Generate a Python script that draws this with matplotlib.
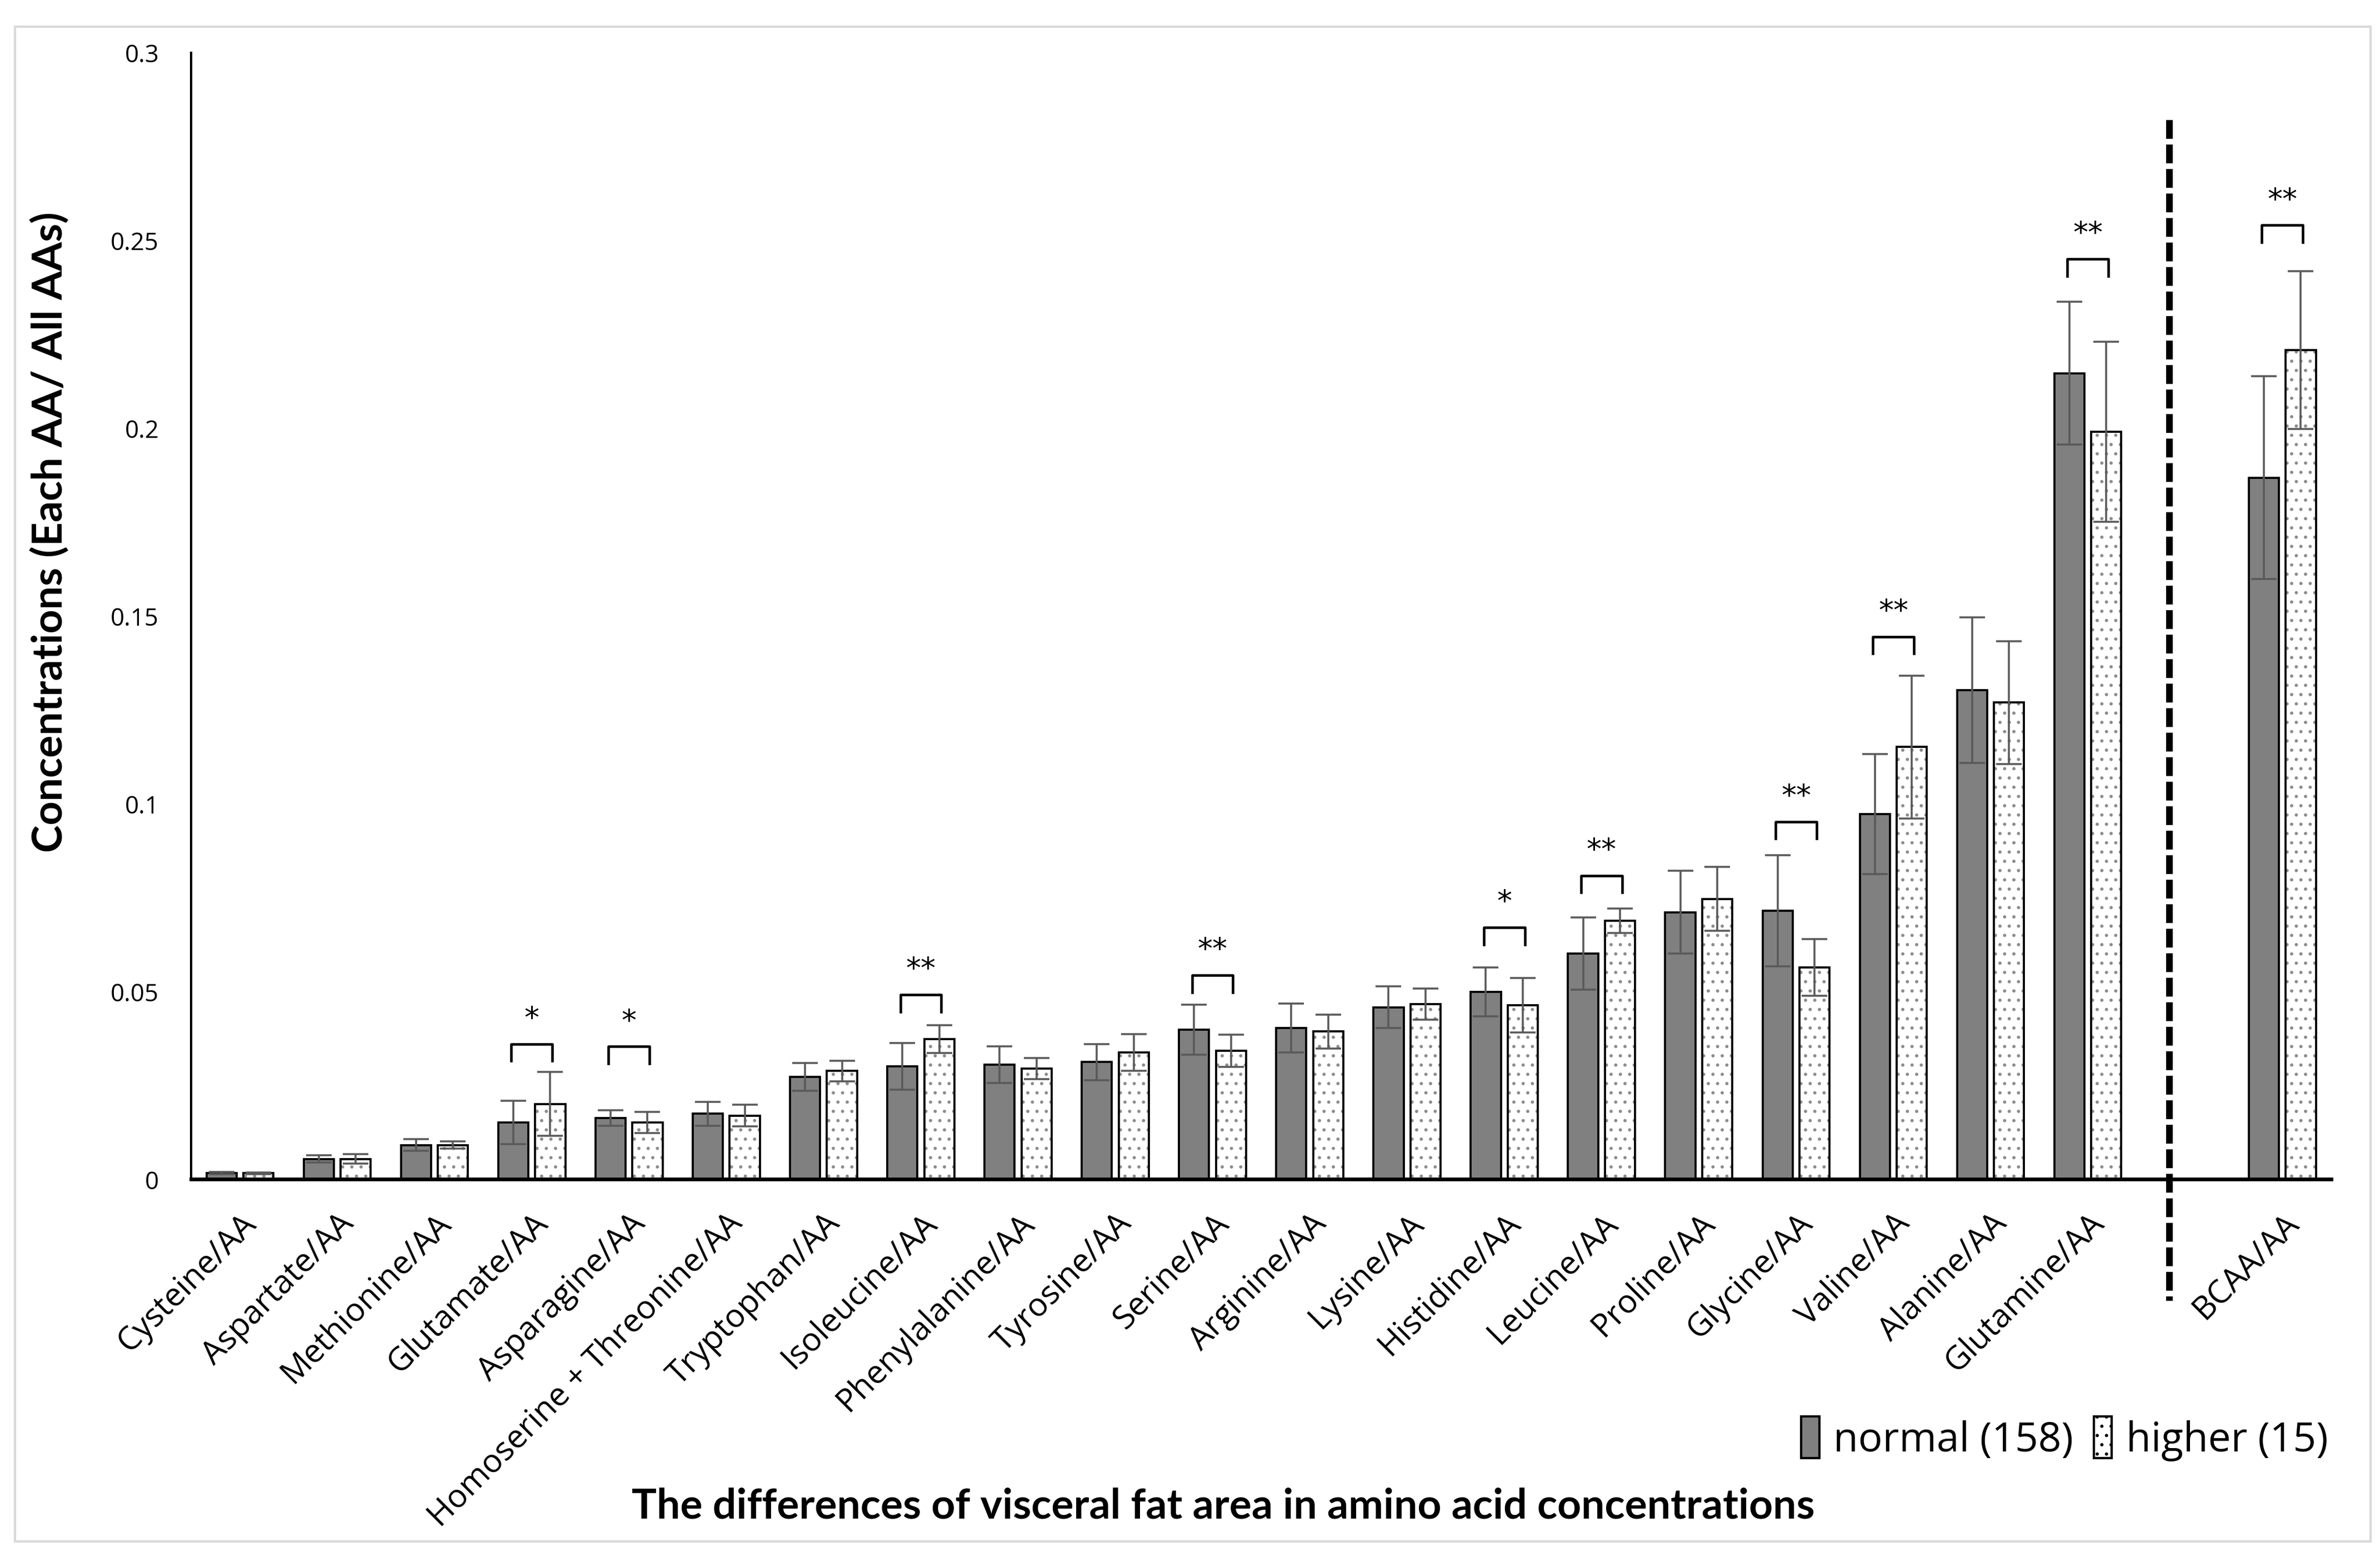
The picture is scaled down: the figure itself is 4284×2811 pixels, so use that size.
import matplotlib
matplotlib.use("Agg")
import matplotlib.pyplot as plt
import numpy as np
from matplotlib.patches import Rectangle

# ---- data ----
categories = ["Cysteine/AA", "Aspartate/AA", "Methionine/AA", "Glutamate/AA",
              "Asparagine/AA", "Homoserine + Threonine/AA", "Tryptophan/AA",
              "Isoleucine/AA", "Phenylalanine/AA", "Tyrosine/AA", "Serine/AA",
              "Arginine/AA", "Lysine/AA", "Histidine/AA", "Leucine/AA", "Proline/AA",
              "Glycine/AA", "Valine/AA", "Alanine/AA", "Glutamine/AA", "", "BCAA/AA"]
normal_mean = [0.0017, 0.0054, 0.0091, 0.0151, 0.0163, 0.0174, 0.0273, 0.0300,
               0.0305, 0.0312, 0.0398, 0.0402, 0.0458, 0.0499, 0.0601, 0.0711,
               0.0715, 0.0972, 0.1302, 0.2146, np.nan, 0.1868]
normal_err = [0.0003, 0.0010, 0.0015, 0.0058, 0.0021, 0.0032, 0.0037, 0.0062,
              0.0049, 0.0048, 0.0067, 0.0065, 0.0055, 0.0065, 0.0096, 0.0110,
              0.0148, 0.0160, 0.0194, 0.0190, np.nan, 0.0270]
higher_mean = [0.0016, 0.0054, 0.0091, 0.0200, 0.0151, 0.0169, 0.0288, 0.0373,
               0.0294, 0.0338, 0.0342, 0.0393, 0.0466, 0.0463, 0.0688, 0.0746,
               0.0564, 0.1151, 0.1269, 0.1990, np.nan, 0.2208]
higher_err = [0.0002, 0.0013, 0.0010, 0.0085, 0.0028, 0.0029, 0.0028, 0.0037,
              0.0028, 0.0049, 0.0043, 0.0045, 0.0041, 0.0073, 0.0032, 0.0085,
              0.0075, 0.0190, 0.0163, 0.0240, np.nan, 0.0210]

# significance brackets: (category index, bracket top, label)
sig_idx = [3, 4, 7, 10, 13, 14, 16, 17, 19, 21]
sig_top = [0.0360, 0.0353, 0.0491, 0.0543, 0.0670, 0.0808, 0.0952, 0.1445, 0.2450, 0.2540]
sig_label = ["*", "*", "**", "**", "*", "**", "**", "**", "**", "**"]

legend_labels = ["normal (158)", "higher (15)"]
yticks = [0, 0.05, 0.1, 0.15, 0.2, 0.25, 0.3]
ytick_labels = ["0", "0.05", "0.1", "0.15", "0.2", "0.25", "0.3"]

plt.rcParams["font.family"] = ["Open Sans", "DejaVu Sans"]
plt.rcParams["hatch.color"] = "#8c8c8c"
plt.rcParams["hatch.linewidth"] = 0.6

fig = plt.figure(figsize=(14.28, 9.3733), dpi=300)
ax = fig.add_axes([0.0804, 0.245, 0.899, 0.721])

x = np.arange(len(categories))
w = 0.31
off = 0.19
gray = "#808080"
errc = "#595959"

ax.bar(x - off, normal_mean, w, color=gray, edgecolor="black", linewidth=0.9, zorder=2)
# dotted bars: hatch layer then outline
ax.bar(x + off, higher_mean, w, color="white", edgecolor="#8c8c8c", hatch="...",
       linewidth=0, zorder=2)
ax.bar(x + off, higher_mean, w, fill=False, edgecolor="black", linewidth=0.9, zorder=3)

ax.errorbar(x - off, normal_mean, yerr=normal_err, fmt="none", ecolor=errc,
            elinewidth=0.85, capsize=5.5, capthick=0.85, zorder=4)
ax.errorbar(x + off, higher_mean, yerr=higher_err, fmt="none", ecolor=errc,
            elinewidth=0.85, capsize=5.5, capthick=0.85, zorder=4)

for i, top, lab in zip(sig_idx, sig_top, sig_label):
    x0, x1 = i - off - 0.02, i + off + 0.02
    ax.plot([x0, x0, x1, x1], [top - 0.0045, top, top, top - 0.0045],
            color="black", lw=1.1, zorder=5)
    ax.text(i, top + 0.0068, lab, ha="center", va="center", fontsize=13,
            family="DejaVu Sans", zorder=5)

# dashed separator before BCAA
ax.plot([19.84, 19.84], [0.282, -0.0324], color="black", lw=2.9, ls=(0, (2.8, 0.85)),
        solid_capstyle="butt", dash_capstyle="butt", clip_on=False, zorder=6)

ax.set_xlim(-0.5, len(categories) - 0.5)
ax.set_ylim(0, 0.3)
ax.set_yticks(yticks)
ax.set_yticklabels(ytick_labels, fontsize=10.5)
ax.set_xticks(x)
ax.set_xticklabels(categories, rotation=45, ha="right", rotation_mode="anchor", fontsize=14)
ax.tick_params(axis="both", length=0)
ax.tick_params(axis="y", pad=14)
ax.tick_params(axis="x", pad=12)
for s in ("top", "right"):
    ax.spines[s].set_visible(False)
ax.spines["left"].set_linewidth(1.0)
ax.spines["bottom"].set_linewidth(1.6)

ax.set_ylabel("Concentrations (Each AA/ All AAs)", fontsize=18, fontweight="bold",
              family=["Lato", "DejaVu Sans"])
ax.yaxis.set_label_coords(-0.057, 0.575)
fig.text(0.514, 0.036, "The differences of visceral fat area in amino acid concentrations",
         ha="center", va="center", fontsize=18, fontweight="bold", family=["Lato", "DejaVu Sans"])

handles = [Rectangle((0, 0), 1, 1, facecolor=gray, edgecolor="black", lw=1.0),
           Rectangle((0, 0), 1, 1, facecolor="white", edgecolor="black", hatch="...", lw=1.0)]
fig.legend(handles, legend_labels, loc="center right", bbox_to_anchor=(0.985, 0.079),
           frameon=False, fontsize=17.5, handlelength=0.45, handleheight=1.2,
           handletextpad=0.35, columnspacing=0.5, ncol=2, borderaxespad=0)

# light frame round the whole picture
fig.patches.append(Rectangle((0.0063, 0.0132), 0.9897, 0.9694, transform=fig.transFigure,
                             fill=False, edgecolor="#d9d9d9", lw=1.0))

fig.savefig("out.png", dpi=300)
